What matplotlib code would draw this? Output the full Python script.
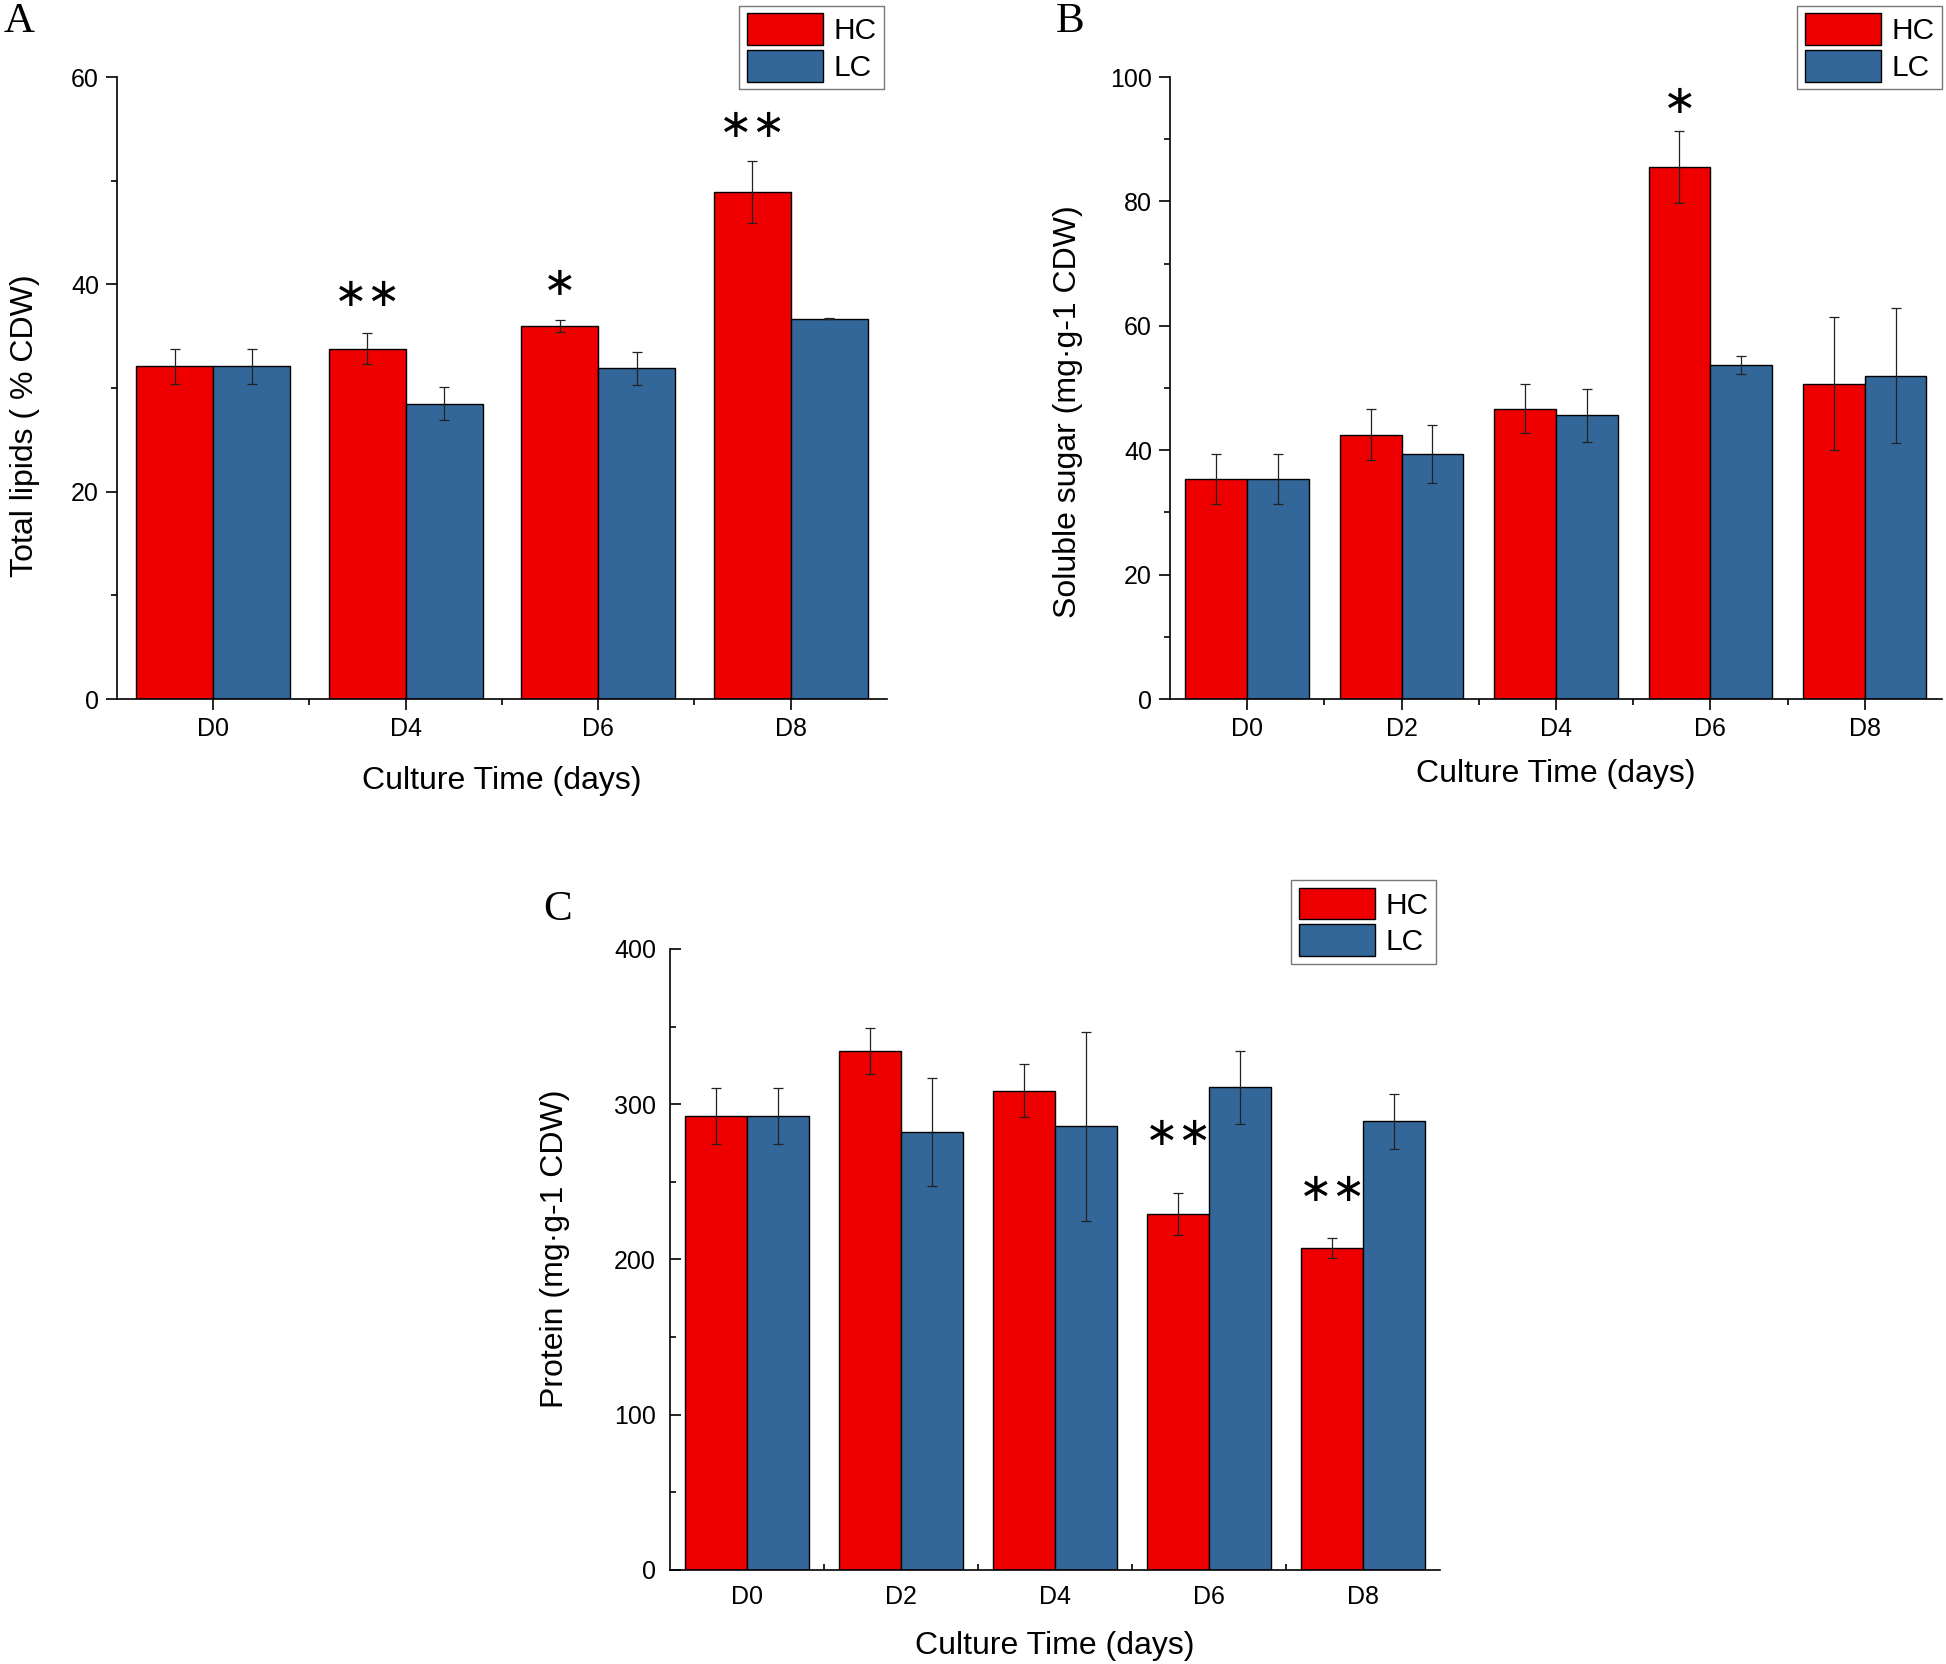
"""
Lipid / soluble sugar / protein content of HC vs LC cultures over culture time.
Three bar panels (A, B, C) with SD error bars and significance marks.
Output: out.png
"""

import numpy as np
import matplotlib
matplotlib.use("Agg")
import matplotlib.pyplot as plt

# ── Data ──────────────────────────────────────────────────────────────────────
LIPID_DAYS   = ["D0", "D4", "D6", "D8"]
LIPID_HC     = [32.1, 33.8, 36.0, 48.9]
LIPID_HC_ERR = [1.7, 1.5, 0.6, 3.0]
LIPID_LC     = [32.1, 28.5, 31.9, 36.7]
LIPID_LC_ERR = [1.7, 1.6, 1.6, 0.05]
LIPID_SIG    = ["", "**", "*", "**"]
LIPID_SIG_Y  = [None, 39.0, 40.0, 55.3]

SUGAR_DAYS   = ["D0", "D2", "D4", "D6", "D8"]
SUGAR_HC     = [35.4, 42.5, 46.7, 85.6, 50.7]
SUGAR_HC_ERR = [4.0, 4.1, 4.0, 5.8, 10.7]
SUGAR_LC     = [35.4, 39.4, 45.6, 53.7, 52.0]
SUGAR_LC_ERR = [4.0, 4.6, 4.3, 1.4, 10.9]
SUGAR_SIG    = ["", "", "", "*", ""]
SUGAR_SIG_Y  = [None, None, None, 96.0, None]

PROT_DAYS    = ["D0", "D2", "D4", "D6", "D8"]
PROT_HC      = [292.3, 334.5, 308.8, 229.1, 207.4]
PROT_HC_ERR  = [18.0, 14.8, 16.8, 13.5, 6.3]
PROT_LC      = [292.3, 282.1, 285.8, 310.8, 289.1]
PROT_LC_ERR  = [18.0, 35.0, 61.0, 23.7, 17.8]
PROT_SIG     = ["", "", "", "**", "**"]
PROT_SIG_Y   = [None, None, None, 281.0, 245.0]

# ── Style ─────────────────────────────────────────────────────────────────────
HC_COLOR = "#EE0000"
LC_COLOR = "#336699"
BAR_W    = 0.4

plt.rcParams["font.family"] = ["Liberation Sans", "DejaVu Sans"]
plt.rcParams["axes.linewidth"] = 1.2


def draw_panel(fig, ax, days, hc, hc_err, lc, lc_err, sig, sig_y,
               ymax, ystep, ylabel, ticks_in, legend_anchor,
               ylabel_xy, xlabel_y):
    x = np.arange(len(days))

    ax.bar(x - BAR_W / 2, hc, BAR_W, color=HC_COLOR, edgecolor="black",
           linewidth=1.0, label="HC", zorder=2)
    ax.bar(x + BAR_W / 2, lc, BAR_W, color=LC_COLOR, edgecolor="black",
           linewidth=1.0, label="LC", zorder=2)
    for xs, vals, errs in [(x - BAR_W / 2, hc, hc_err), (x + BAR_W / 2, lc, lc_err)]:
        ax.errorbar(xs, vals, yerr=errs, fmt="none", ecolor="#222222",
                    elinewidth=0.9, capsize=3.6, capthick=0.9, zorder=3)

    # significance marks above HC bars
    for i, (lab, yy) in enumerate(zip(sig, sig_y)):
        if not lab:
            continue
        ax.text(x[i] - BAR_W / 2, yy, lab.replace("*", "\u2217"),
                ha="center", va="center", fontsize=29,
                family="DejaVu Sans", zorder=4)

    ax.set_xlim(-0.5, len(days) - 0.5)
    ax.set_ylim(0, ymax)
    ax.set_xticks(x)
    ax.set_xticklabels(days)
    ax.set_xticks(np.arange(len(days) - 1) + 0.5, minor=True)
    ax.set_yticks(np.arange(0, ymax + 1, ystep))
    ax.set_yticks(np.arange(ystep / 2, ymax, ystep), minor=True)

    for side in ("top", "right"):
        ax.spines[side].set_visible(False)

    direction = "in" if ticks_in else "out"
    ax.tick_params(which="major", direction=direction, length=8, width=1.2,
                   labelsize=18, pad=10 if ticks_in else 5)
    ax.tick_params(which="minor", direction=direction, length=4.5, width=1.2)
    ax.tick_params(axis="x", which="major", pad=11 if ticks_in else 5)
    if ticks_in:
        ax.set_axisbelow(True)

    ax.set_ylabel(ylabel, fontsize=23)
    ax.set_xlabel("Culture Time (days)", fontsize=23)
    ax.yaxis.set_label_coords(*ylabel_xy)
    ax.xaxis.set_label_coords(0.5, xlabel_y)

    leg = ax.legend(loc="upper right", bbox_to_anchor=legend_anchor,
                    bbox_transform=fig.transFigure, borderaxespad=0,
                    fancybox=False, edgecolor="#777777", framealpha=1,
                    fontsize=21.5, handlelength=2.55, handleheight=1.25,
                    labelspacing=0.16, handletextpad=0.35, borderpad=0.25)
    leg.get_frame().set_linewidth(1.0)


def main():
    fig = plt.figure(figsize=(19.46, 16.64), dpi=100)

    ax_a = fig.add_axes([0.0601, 0.5799, 0.3957, 0.3738])
    ax_b = fig.add_axes([0.6012, 0.5799, 0.3967, 0.3738])
    ax_c = fig.add_axes([0.3443, 0.0565, 0.3957, 0.3732])

    draw_panel(fig, ax_a, LIPID_DAYS, LIPID_HC, LIPID_HC_ERR, LIPID_LC, LIPID_LC_ERR,
               LIPID_SIG, LIPID_SIG_Y, 60, 20, "Total lipids ( % CDW)",
               False, (0.4543, 0.9964), (-0.100, 0.44), -0.108)
    draw_panel(fig, ax_b, SUGAR_DAYS, SUGAR_HC, SUGAR_HC_ERR, SUGAR_LC, SUGAR_LC_ERR,
               SUGAR_SIG, SUGAR_SIG_Y, 100, 20, "Soluble sugar (mg\u00b7g-1 CDW)",
               False, (0.998, 0.9964), (-0.113, 0.462), -0.097)
    draw_panel(fig, ax_c, PROT_DAYS, PROT_HC, PROT_HC_ERR, PROT_LC, PROT_LC_ERR,
               PROT_SIG, PROT_SIG_Y, 400, 100, "Protein (mg\u00b7g-1 CDW)",
               True, (0.738, 0.471), (-0.130, 0.518), -0.098)

    # panel letters
    for lab, (px, py) in zip("ABC", [(19, 22), (1070, 22), (558, 910)]):
        fig.text(px / 1946, 1 - py / 1664, lab, ha="center", va="center",
                 fontsize=31, family="Liberation Serif")

    fig.savefig("out.png", dpi=100)
    plt.close(fig)


if __name__ == "__main__":
    main()
